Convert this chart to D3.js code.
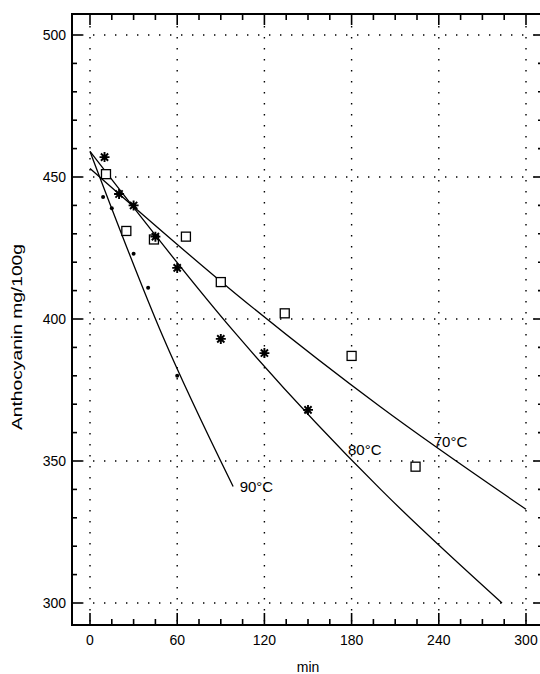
<!DOCTYPE html>
<html lang="en">
<head>
<meta charset="UTF-8">
<title>Anthocyanin</title>
<style>
  body { margin: 0; background: #fff; }
  text { font-family: "Liberation Sans", Arial, sans-serif; fill: #000; }
</style>
</head>
<body>
<div id="chart"></div>
<script src="https://cdnjs.cloudflare.com/ajax/libs/d3/7.8.5/d3.min.js"></script>
<script>
var t70 = [11, 25, 44, 66, 90, 134, 180, 224];
var c70 = [451, 431, 428, 429, 413, 402, 387, 348];
var t80 = [10, 20, 30, 45, 60, 90, 120, 150];
var c80 = [457, 444, 440, 429, 418, 393, 388, 368];
var t90 = [9, 15, 30, 40, 60];
var c90 = [443, 439, 423, 411, 380];

// fitted curves, points
var fitT70 = [0, 100, 200, 300];
var fitC70 = [453, 409, 369, 333];
var fitT80 = [0, 100, 200, 283.5];
var fitC80 = [459, 395, 340, 300];
var fitT90 = [0, 50, 98.5];
var fitC90 = [459, 394, 341];

var curveLabels = ["70°C", "80°C", "90°C"];
var labelT = [236.5, 177.5, 103];
var labelC = [355, 352, 339];

var xTicks = [0, 60, 120, 180, 240, 300];
var yTicks = [300, 350, 400, 450, 500];

var width = 540, height = 674;
var frame = {l: 72, t: 14, r: 544, b: 625};

var x = d3.scaleLinear().domain([0, 300]).range([90, 526]);
var y = d3.scaleLinear().domain([300, 500]).range([603, 35]);

var svg = d3.select("#chart").append("svg")
    .attr("width", width).attr("height", height);

// dotted grid
var grid = svg.append("g").attr("stroke", "#000").attr("stroke-width", 1.4)
    .attr("stroke-dasharray", "1.4 9.6").attr("fill", "none");
grid.selectAll("line.gx").data(xTicks).enter().append("line")
    .attr("x1", d => x(d)).attr("x2", d => x(d))
    .attr("y1", frame.t + 12).attr("y2", frame.b);
grid.selectAll("line.gy").data(yTicks).enter().append("line")
    .attr("y1", d => y(d)).attr("y2", d => y(d))
    .attr("x1", frame.l + 10).attr("x2", frame.r);

// ticks on all four sides, pointing inward
var xMinor = d3.range(-15, 316, 15).filter(d => x(d) > frame.l && x(d) < frame.r);
var yMinor = d3.range(290, 511, 10).filter(d => y(d) > frame.t && y(d) < frame.b);
var ticks = svg.append("g").attr("stroke", "#000").attr("stroke-width", 1.6);
ticks.selectAll(null).data(xMinor).enter().append("line")
    .attr("x1", d => x(d)).attr("x2", d => x(d))
    .attr("y1", frame.b).attr("y2", d => frame.b - (d % 60 === 0 ? 12 : 6));
ticks.selectAll(null).data(xMinor).enter().append("line")
    .attr("x1", d => x(d)).attr("x2", d => x(d))
    .attr("y1", frame.t).attr("y2", d => frame.t + (d % 60 === 0 ? 11 : 6));
ticks.selectAll(null).data(yMinor).enter().append("line")
    .attr("y1", d => y(d)).attr("y2", d => y(d))
    .attr("x1", frame.l).attr("x2", d => frame.l + (d % 50 === 0 ? 10 : 5));
ticks.selectAll(null).data(yMinor).enter().append("line")
    .attr("y1", d => y(d)).attr("y2", d => y(d))
    .attr("x1", frame.r).attr("x2", d => frame.r - (d % 50 === 0 ? 10 : 6));

// frame
svg.append("rect")
    .attr("x", frame.l).attr("y", frame.t)
    .attr("width", frame.r - frame.l).attr("height", frame.b - frame.t)
    .attr("fill", "none").attr("stroke", "#000").attr("stroke-width", 2);

// tick labels
svg.selectAll("text.xl").data(xTicks).enter().append("text")
    .attr("x", d => x(d)).attr("y", 645)
    .attr("text-anchor", "middle").attr("font-size", 14)
    .text(d => d);
svg.selectAll("text.yl").data(yTicks).enter().append("text")
    .attr("x", 66).attr("y", d => y(d)).attr("dy", "0.36em")
    .attr("text-anchor", "end").attr("font-size", 14)
    .text(d => d);

svg.append("text").attr("x", 308).attr("y", 672)
    .attr("text-anchor", "middle").attr("font-size", 14).text("min");
svg.append("text")
    .attr("transform", "translate(22,337) rotate(-90)")
    .attr("text-anchor", "middle").attr("font-size", 15)
    .attr("textLength", 186).attr("lengthAdjust", "spacingAndGlyphs")
    .text("Anthocyanin mg/100g");

// fitted lines
var line = d3.line().x(d => x(d[0])).y(d => y(d[1])).curve(d3.curveMonotoneX);
var fits = [d3.zip(fitT70, fitC70), d3.zip(fitT80, fitC80), d3.zip(fitT90, fitC90)];
svg.append("g").selectAll("path").data(fits).enter().append("path")
    .attr("d", line).attr("fill", "none")
    .attr("stroke", "#000").attr("stroke-width", 1.3);

// 70 °C: open squares
svg.append("g").selectAll("rect").data(d3.zip(t70, c70)).enter().append("rect")
    .attr("x", d => x(d[0]) - 4.5).attr("y", d => y(d[1]) - 4.5)
    .attr("width", 9).attr("height", 9)
    .attr("fill", "#fff").attr("stroke", "#000").attr("stroke-width", 1.3);

// 80 °C: asterisks
var star = "M-5,0H5M0,-5V5M-3.6,-3.6L3.6,3.6M-3.6,3.6L3.6,-3.6";
svg.append("g").selectAll("path").data(d3.zip(t80, c80)).enter().append("path")
    .attr("transform", d => "translate(" + x(d[0]) + "," + y(d[1]) + ")")
    .attr("d", star).attr("stroke", "#000").attr("stroke-width", 1.9);

// 90 °C: small dots
svg.append("g").selectAll("circle").data(d3.zip(t90, c90)).enter().append("circle")
    .attr("cx", d => x(d[0])).attr("cy", d => y(d[1])).attr("r", 2)
    .attr("fill", "#000");

// curve labels
svg.selectAll("text.cl").data(curveLabels).enter().append("text")
    .attr("x", (d, i) => x(labelT[i])).attr("y", (d, i) => y(labelC[i]))
    .attr("font-size", 15)
    .text(d => d);
</script>
</body>
</html>
